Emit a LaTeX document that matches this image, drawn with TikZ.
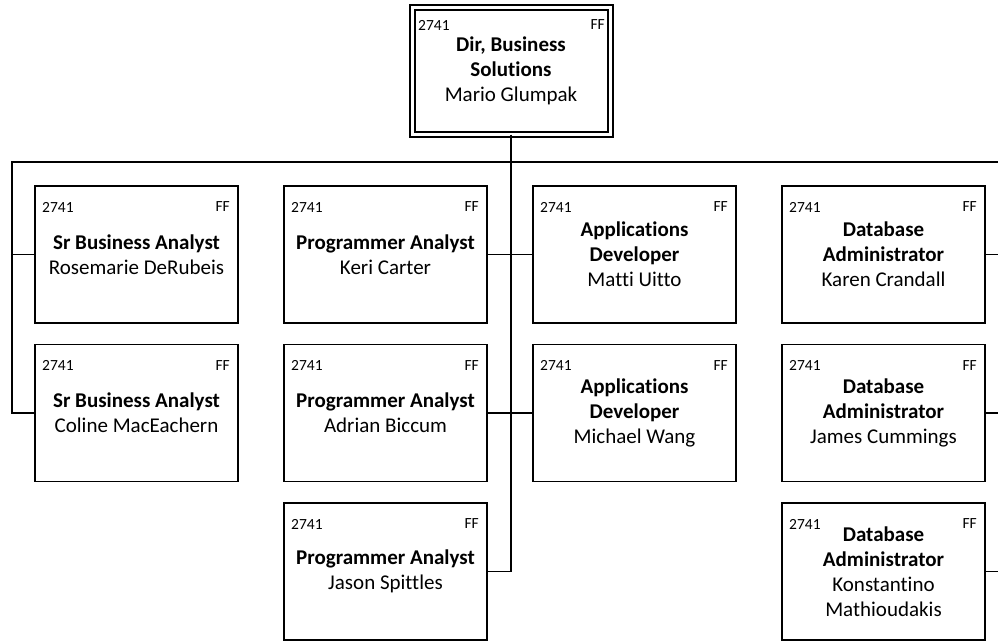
\documentclass[tikz,border=0pt]{standalone}
\usepackage{fontspec}
\setmainfont[Ligatures=NoCommon]{Carlito}
\usetikzlibrary{calc}

\begin{document}
\begin{tikzpicture}[x=1pt, y=-1pt,
    posbox/.style={draw, line width=1.6pt, minimum width=203pt, minimum height=137pt,
        inner sep=0pt, outer sep=0pt, align=center, font=\fontsize{21}{25}\selectfont},
    corner/.style={inner sep=0pt, font=\fontsize{15.5}{18}\selectfont},
    link/.style={line width=1.4pt},
    busline/.style={line width=2pt}]
    \useasboundingbox (0,0) rectangle (998,641);

    % Direktor
    \node[posbox, double, line width=2pt, double distance=3pt,
        minimum width=198pt, minimum height=127pt] (dir) at (511,71)
        {\textbf{Dir, Business}\\\textbf{Solutions}\\Mario Glumpak};
    \node[corner, anchor=west] at (418,25) {2741};
    \node[corner, anchor=east] at (605,25) {FF};

    % Mitarbeiter
    \foreach \n/\x/\y/\txt in {
        sba1/136.5/254.5/{\textbf{Sr Business Analyst}\\Rosemarie DeRubeis},
        sba2/136.5/413/{\textbf{Sr Business Analyst}\\Coline MacEachern},
        pa1/385.5/254.5/{\textbf{Programmer Analyst}\\Keri Carter},
        pa2/385.5/413/{\textbf{Programmer Analyst}\\Adrian Biccum},
        pa3/385.5/571.5/{\textbf{Programmer Analyst}\\Jason Spittles},
        ad1/634.5/254.5/{\textbf{Applications}\\\textbf{Developer}\\Matti Uitto},
        ad2/634.5/413/{\textbf{Applications}\\\textbf{Developer}\\Michael Wang},
        dba1/883.5/254.5/{\textbf{Database}\\\textbf{Administrator}\\Karen Crandall},
        dba2/883.5/413/{\textbf{Database}\\\textbf{Administrator}\\James Cummings},
        dba3/883.5/571.5/{\textbf{Database}\\\textbf{Administrator}\\Konstantino\\Mathioudakis}} {
        \node[posbox] (\n) at (\x,\y) {\txt};
        \node[corner, anchor=west] at ([xshift=7pt, yshift=-21pt]\n.north west) {2741};
        \node[corner, anchor=east] at ([xshift=-8pt, yshift=-21pt]\n.north east) {FF};
    }

    % Verbindungen
    \coordinate (busL) at (12,162);
    \coordinate (busR) at (998,162);
    \draw[busline] (busL) -- (busR);
    \draw[busline] (dir.south) -- (dir.south |- pa2.east);
    \draw[link] (dir.south |- pa2.east) -- (dir.south |- pa3.east) -- (pa3.east);
    \draw[link] (pa1.east) -- (ad1.west);
    \draw[link] (pa2.east) -- (ad2.west);
    \draw[link, line cap=rect] (busL) -- (busL |- sba2.west) -- (sba2.west);
    \draw[link] (busL |- sba1.west) -- (sba1.west);
    \foreach \n in {dba1,dba2,dba3}
        \draw[link] (\n.east) -- (\n.east -| busR);
\end{tikzpicture}
\end{document}
